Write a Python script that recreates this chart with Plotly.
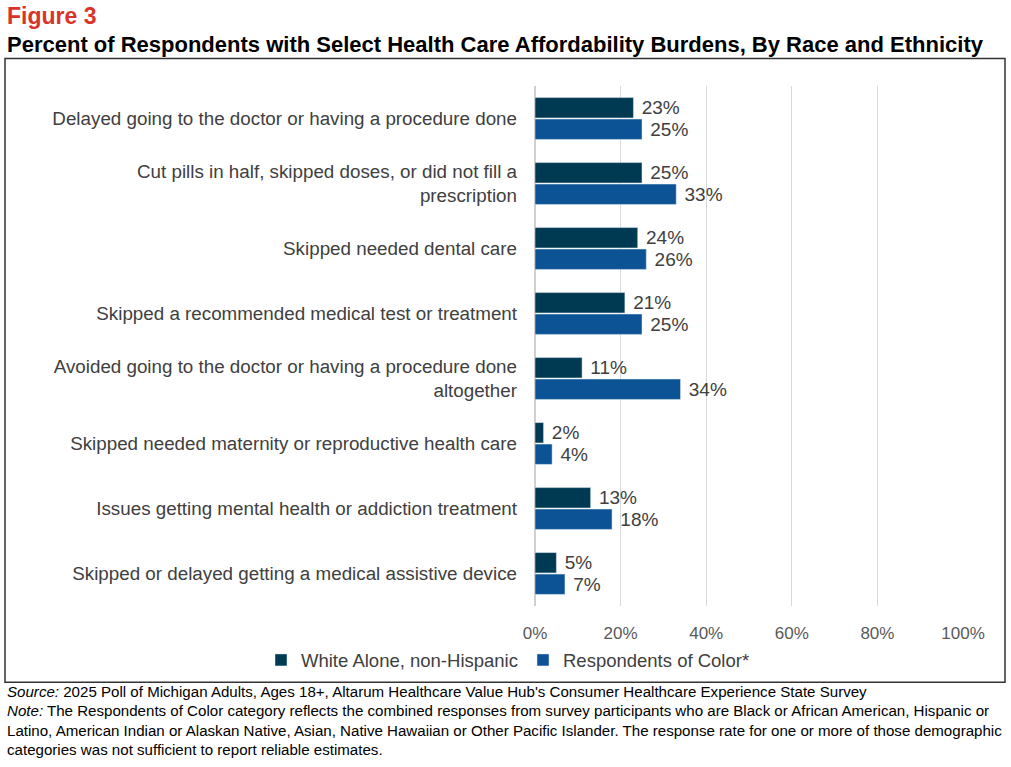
import plotly.graph_objects as go

categories = [
    "Delayed going to the doctor or having a procedure done",
    "Cut pills in half, skipped doses, or did not fill a<br>prescription",
    "Skipped needed dental care",
    "Skipped a recommended medical test or treatment",
    "Avoided going to the doctor or having a procedure done<br>altogether",
    "Skipped needed maternity or reproductive health care",
    "Issues getting mental health or addiction treatment",
    "Skipped or delayed getting a medical assistive device",
]
white = [23, 25, 24, 21, 11, 2, 13, 5]
color = [25, 33, 26, 25, 34, 4, 18, 7]
x_ticks = [0, 20, 40, 60, 80, 100]

FONT = "Liberation Sans, Arial, sans-serif"
TXT = "#404040"

# plot area in pixels: x 535..963, y 85.5..606.5
L, R, T, B = 535, 963, 85.5, 606.5
W, H = R - L, B - T


def px(x):
    return (x - L) / W


def py(y):
    return (B - y) / H


fig = go.Figure()
fig.add_trace(go.Bar(
    y=categories, x=white, orientation="h", name="White Alone, non-Hispanic",
    marker=dict(color="#003a52"),
    text=[f"\u00a0{v}%" for v in white], textposition="outside",
    textfont=dict(size=19, color=TXT, family=FONT), cliponaxis=False,
))
fig.add_trace(go.Bar(
    y=categories, x=color, orientation="h", name="Respondents of Color*",
    marker=dict(color="#0b5394"),
    text=[f"\u00a0{v}%" for v in color], textposition="outside",
    textfont=dict(size=19, color=TXT, family=FONT), cliponaxis=False,
))

fig.update_layout(
    width=1011, height=767,
    margin=dict(l=L, r=1011 - R, t=T, b=767 - B),
    paper_bgcolor="white", plot_bgcolor="white",
    barmode="group", bargap=0.34, bargroupgap=0.05,
    font=dict(family=FONT, color=TXT),
    uniformtext=dict(minsize=19, mode="show"),
    xaxis=dict(range=[0, 100], tickvals=x_ticks, ticktext=[f"{v}%" for v in x_ticks],
               showgrid=True, gridcolor="#d9d9d9", gridwidth=1, zeroline=True,
               zerolinecolor="#d0d0d0", zerolinewidth=1.5,
               tickfont=dict(size=17, color="#595959"),
               ticks="", ticklabelstandoff=15, fixedrange=True),
    yaxis=dict(autorange="reversed", tickfont=dict(size=18.8, color=TXT),
               ticks="", ticklabelstandoff=17, showline=False),
    legend=dict(orientation="h", x=px(508), xanchor="center", y=py(661), yanchor="middle",
                font=dict(size=18.5, color=TXT), itemwidth=30, traceorder="normal"),
    showlegend=True,
)

# outer box of the chart
fig.add_shape(type="rect", xref="paper", yref="paper",
              x0=px(5), x1=px(1005), y0=py(683), y1=py(58),
              line=dict(color="#333333", width=1.5), fillcolor="rgba(0,0,0,0)")

fig.add_annotation(text="<b>Figure 3</b>", xref="paper", yref="paper",
                   x=px(5), y=py(15), xanchor="left", yanchor="middle", showarrow=False,
                   font=dict(size=23, color="#d9342b", family=FONT))
fig.add_annotation(text="<b>Percent of Respondents with Select Health Care Affordability Burdens, By Race and Ethnicity</b>",
                   xref="paper", yref="paper", x=px(5), y=py(44), xanchor="left",
                   yanchor="middle", showarrow=False,
                   font=dict(size=22, color="black", family=FONT))

source = "<i>Source:</i> 2025 Poll of Michigan Adults, Ages 18+, Altarum Healthcare Value Hub's Consumer Healthcare Experience State Survey"
note = ("<i>Note:</i> The Respondents of Color category reflects the combined responses from survey participants who are Black or African American, Hispanic or<br>"
        "Latino, American Indian or Alaskan Native, Asian, Native Hawaiian or Other Pacific Islander. The response rate for one or more of those demographic<br>"
        "categories was not sufficient to report reliable estimates.")
fig.add_annotation(text=source, xref="paper", yref="paper", x=px(5), y=py(692),
                   xanchor="left", yanchor="middle", showarrow=False, align="left",
                   font=dict(size=15.1, color="black", family=FONT))
fig.add_annotation(text=note, xref="paper", yref="paper", x=px(5), y=py(701),
                   xanchor="left", yanchor="top", showarrow=False, align="left",
                   font=dict(size=15.1, color="black", family=FONT))

fig.write_html("out.html", config={"displayModeBar": False},
               post_script="document.body.style.margin='0';")
